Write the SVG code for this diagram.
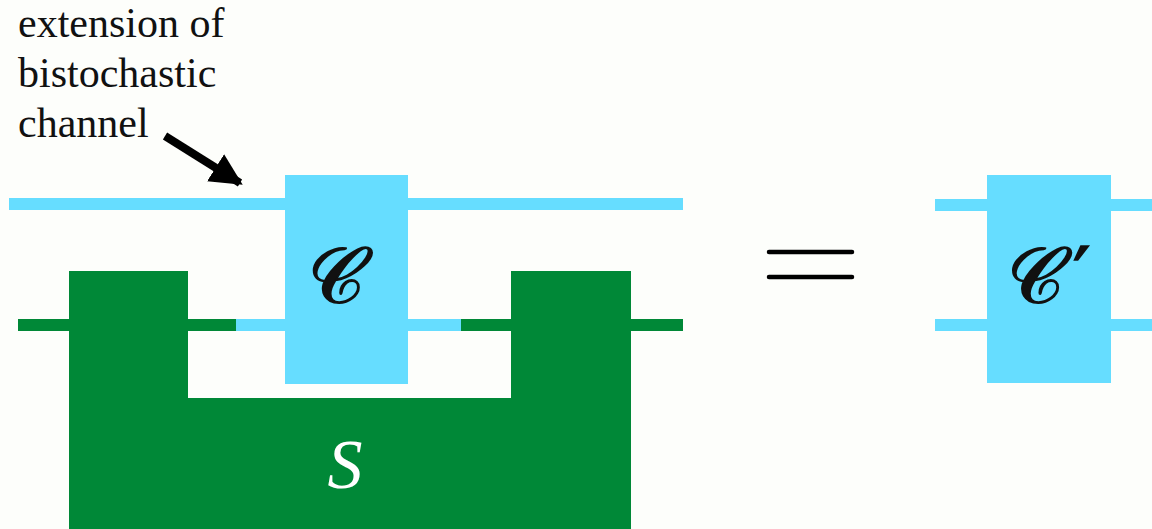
<svg xmlns="http://www.w3.org/2000/svg" width="1152" height="529" viewBox="0 0 1152 529">
<style>
.cy{fill:#66ddff}
.gr{fill:#008837}
.lbl{font-family:"Liberation Serif","DejaVu Serif",serif;font-size:42px;fill:#111}
.scr{font-family:"DejaVu Sans","Noto Sans Math","Liberation Serif",serif;font-size:76px;fill:#111;stroke:#111;stroke-width:1.6;text-anchor:middle}
</style>
<defs>
<marker id="ah" viewBox="0 0 10 10" refX="9" refY="5" markerWidth="4" markerHeight="4" orient="auto" markerUnits="strokeWidth">
<path d="M0,0 L10,5 L0,10 z" fill="#000"/>
</marker>
</defs>
<rect width="1152" height="529" fill="#fdfefb"/>
<g id="wires">
<rect class="cy" x="9" y="198" width="276" height="12"/>
<rect class="cy" x="408" y="198" width="275" height="12"/>
<rect class="gr" x="18" y="319" width="51" height="12"/>
<rect class="gr" x="188" y="319" width="48" height="12"/>
<rect class="cy" x="236" y="319" width="49" height="12"/>
<rect class="cy" x="408" y="319" width="53" height="12"/>
<rect class="gr" x="461" y="319" width="50" height="12"/>
<rect class="gr" x="631" y="319" width="52" height="12"/>
<rect class="cy" x="935" y="199" width="52" height="12"/>
<rect class="cy" x="1111" y="199" width="41" height="12"/>
<rect class="cy" x="935" y="319" width="52" height="12"/>
<rect class="cy" x="1111" y="319" width="41" height="12"/>
<line x1="165" y1="136" x2="240" y2="183" stroke="#000" stroke-width="8" marker-end="url(#ah)"/>
</g>
<g id="S">
<path class="gr" d="M69,271 H188 V398 H511 V271 H631 V529 H69 Z"/>
<text x="345" y="488" font-family="Liberation Serif,serif" font-style="italic" font-size="70" fill="#fff" text-anchor="middle">S</text>
</g>
<g id="C">
<rect class="cy" x="285" y="175" width="123" height="209"/>
<text class="scr" x="342" y="302">𝒞</text>
</g>
<g id="eq">
<line x1="769" y1="252" x2="852" y2="252" stroke="#000" stroke-width="4.5" stroke-linecap="round"/>
<line x1="769" y1="277" x2="852" y2="277" stroke="#000" stroke-width="4.5" stroke-linecap="round"/>
</g>
<g id="Cp">
<rect class="cy" x="987" y="175" width="124" height="208"/>
<text class="scr" x="1050" y="302">𝒞′</text>
</g>
<g id="label">
<text class="lbl" x="18" y="37">extension of</text>
<text class="lbl" x="18" y="87">bistochastic</text>
<text class="lbl" x="18" y="137">channel</text>
</g>
</svg>
